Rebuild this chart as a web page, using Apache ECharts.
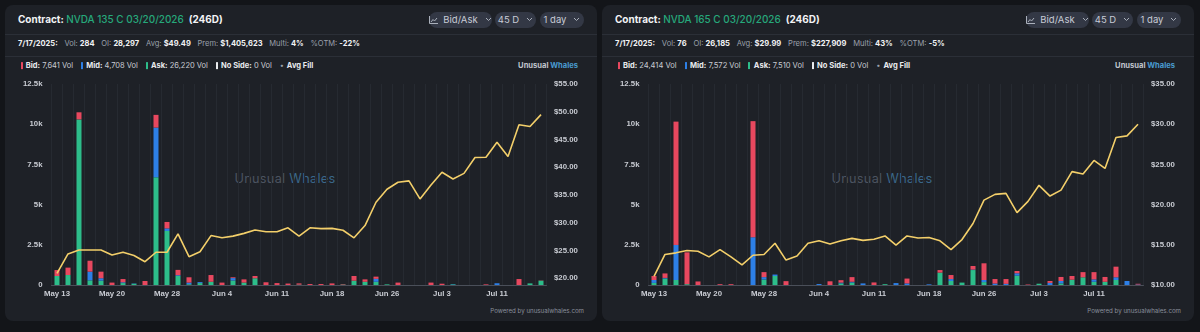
<!DOCTYPE html>
<html><head><meta charset="utf-8">
<script src="https://cdn.jsdelivr.net/npm/echarts@6/dist/echarts.min.js"></script>
<style>
html,body{margin:0;padding:0;background:#131519;width:1200px;height:332px;overflow:hidden;font-family:Inter,"Noto Sans",sans-serif;}
.panel{position:absolute;top:5px;width:592px;height:316px;background:#1e2127;border-radius:8px;overflow:hidden}
.sep{position:absolute;left:0;right:0;height:1px;background:#2b2f37}
.fitrow{position:absolute;white-space:nowrap;display:inline-block}
.title{left:13px;top:14px;transform:translateY(-50%);font-size:10.5px;font-weight:700;color:#f2f3f5;line-height:1.3}
.title .g{color:#26a87b;font-weight:500}
.title .d{margin-left:0.5em}
.stats{left:13px;top:39px;transform:translateY(-50%);font-size:8px;line-height:1.3;color:#9aa0ab}
.stats b{color:#f2f3f5;font-weight:700}
.stats span{margin-right:0.9em}
.stats span:last-child{margin-right:0}
.legend{left:15.5px;top:61px;transform:translateY(-50%);font-size:8.5px;line-height:1.3;color:#c9ccd3}
.legend b{color:#e9ebee;font-weight:700}
.legend .it{margin-right:1.05em;display:inline-block}
.legend .it:last-child{margin-right:0}
.legend i{display:inline-block;width:2px;height:0.95em;vertical-align:-0.12em;margin-right:0.45em}
.pill{position:absolute;top:7px;height:16px;border-radius:8px;background:#333845;color:#c8ccd6;font-size:9.5px;line-height:16px;text-align:center;white-space:nowrap}
.brand{top:61px;transform:translateY(-50%);font-size:8.5px;line-height:1.3;font-weight:700;color:#c2c6ce}
.brand span{color:#4a9bd1}
.wm{top:174px;transform:translateY(-50%);font-size:13px;line-height:1.3;color:#4b5360;letter-spacing:0.3px}
.wm span{color:#3a6688}
.pow{top:306px;transform:translateY(-50%);font-size:7.5px;line-height:1.3;color:#8a909c}
.chart{position:absolute;left:0;top:0;width:592px;height:316px}
</style></head>
<body>
<script>
// ---------- data ----------
const categories = ["May 13","May 14","May 15","May 16","May 19","May 20","May 21","May 22","May 23","May 27","May 28","May 29","May 30","Jun 2","Jun 3","Jun 4","Jun 5","Jun 6","Jun 9","Jun 10","Jun 11","Jun 12","Jun 13","Jun 16","Jun 17","Jun 18","Jun 20","Jun 23","Jun 24","Jun 25","Jun 26","Jun 27","Jun 30","Jul 1","Jul 2","Jul 3","Jul 7","Jul 8","Jul 9","Jul 10","Jul 11","Jul 14","Jul 15","Jul 16","Jul 17"];

const leftBid = [370,460,440,680,410,150,200,0,250,790,400,330,330,0,420,150,50,200,140,170,120,90,80,60,60,100,30,290,150,140,0,150,0,0,150,80,0,0,0,40,0,0,370,0,14];
const leftMid = [0,0,0,540,150,0,50,20,0,3090,160,50,100,60,0,0,150,0,0,0,0,0,0,0,0,0,0,0,0,180,0,0,0,0,0,0,20,0,0,0,110,0,0,0,0];
const leftAsk = [560,620,10300,290,270,0,120,80,0,6700,3360,560,50,120,200,0,280,150,420,0,0,0,20,0,0,0,30,270,200,200,40,0,0,0,0,0,40,0,0,0,0,0,0,100,270];
const leftNoSide = new Array(45).fill(0);
const leftAvgFill = [20.9,24.4,25.1,25.1,25.1,24.2,24.7,24.1,23.0,24.7,24.7,28.0,23.9,24.8,27.7,27.3,27.6,28.1,28.7,28.4,28.4,29.1,27.6,29.1,28.95,29.0,28.66,27.3,29.5,33.7,36.05,37.3,37.55,34.3,36.8,39.1,37.9,38.9,41.75,41.8,44.5,41.95,47.65,47.35,49.49];

const rightBid = [250,280,7670,1980,220,0,50,50,0,7220,310,0,240,0,0,0,230,150,290,0,160,0,0,300,0,0,160,250,0,220,1040,280,300,140,30,0,120,250,230,320,450,300,660,0,46];
const rightMid = [180,40,2180,0,0,0,0,0,0,2970,150,90,0,0,0,60,0,50,50,100,0,0,120,100,0,40,0,120,0,30,130,90,70,150,0,0,130,150,0,0,150,0,170,250,30];
const rightAsk = [130,400,310,50,0,0,0,0,0,0,340,560,0,0,0,0,0,100,150,0,0,50,0,0,0,0,770,250,150,930,180,0,0,580,0,80,0,100,330,480,200,200,310,0,0];
const rightNoSide = new Array(45).fill(0);
const rightAvgFill = [11.06,13.8,14.0,14.3,14.2,13.5,14.4,13.5,12.5,13.7,13.8,15.2,13.1,13.6,15.2,15.5,15.1,15.5,15.8,15.55,15.7,16.1,14.95,16.1,15.85,15.9,15.5,14.4,15.65,17.65,20.56,21.27,21.4,19.0,20.4,22.4,21.06,21.8,24.1,23.8,25.5,24.5,28.35,28.55,29.99];

const volTicks = [0,2500,5000,7500,10000,12500];
const volTickLabels = ["0","2.5k","5k","7.5k","10k","12.5k"];

const panels = [
  {x:5, strike:"135", dte:"246D", date:"7/17/2025:", vol:"284", oi:"28,297", avg:"$49.49", prem:"$1,405,623", multi:"4%", otm:"-22%",
   bidT:"7,641", midT:"4,708", askT:"26,220", bid:leftBid, mid:leftMid, ask:leftAsk, none:leftNoSide, fill:leftAvgFill, pMin:18.8, pMax:55, pSplit:7,
   statsW:342},
  {x:602, strike:"165", dte:"246D", date:"7/17/2025:", vol:"76", oi:"26,185", avg:"$29.99", prem:"$227,909", multi:"43%", otm:"-5%",
   bidT:"24,414", midT:"7,572", askT:"7,510", bid:rightBid, mid:rightMid, ask:rightAsk, none:rightNoSide, fill:rightAvgFill, pMin:10, pMax:35, pSplit:5,
   statsW:330}
];

const chev = '<svg width="7" height="5" viewBox="0 0 7 5" style="margin-left:7px;vertical-align:1px"><path d="M1 1 L3.5 3.5 L6 1" stroke="#aab0bb" stroke-width="1" fill="none"/></svg>';
const icon = '<svg width="9" height="8" viewBox="0 0 9 8" style="margin-right:5px;vertical-align:-1px"><path d="M0.5 0 V7.5 H9" stroke="#aab0bb" stroke-width="1" fill="none"/><path d="M2 6 L4 3.5 L5.5 5 L8 2" stroke="#aab0bb" stroke-width="1" fill="none"/></svg>';

function fit(el, target, alignRight) {
  const w = el.getBoundingClientRect().width;
  const fs = parseFloat(getComputedStyle(el).fontSize);
  el.style.fontSize = (fs * target / w) + 'px';
  if (alignRight !== undefined) { el.style.left = (alignRight - el.getBoundingClientRect().width) + 'px'; }
}

panels.forEach((p, k) => {
  const d = document.createElement('div');
  d.className = 'panel';
  d.style.left = p.x + 'px';
  d.innerHTML = `
    <div class="sep" style="top:29px"></div>
    <div class="sep" style="top:51px"></div>
    <div class="fitrow title">Contract: <span class="g">NVDA ${p.strike} C 03/20/2026</span><span class="d">(${p.dte})</span></div>
    <div class="pill" style="left:424px;width:63px">${icon}Bid/Ask${chev}</div>
    <div class="pill" style="left:490px;width:41px">45 D${chev}</div>
    <div class="pill" style="left:535px;width:44px">1 day${chev}</div>
    <div class="fitrow stats"><span><b>${p.date}</b></span><span>Vol: <b>${p.vol}</b></span><span>OI: <b>${p.oi}</b></span><span>Avg: <b>${p.avg}</b></span><span>Prem: <b>${p.prem}</b></span><span>Multi: <b>${p.multi}</b></span><span>%OTM: <b>${p.otm}</b></span></div>
    <div class="fitrow legend"><span class="it"><i style="background:#e8485f"></i><b>Bid:</b> ${p.bidT} Vol</span><span class="it"><i style="background:#2d7fe6"></i><b>Mid:</b> ${p.midT} Vol</span><span class="it"><i style="background:#2dbd8a"></i><b>Ask:</b> ${p.askT} Vol</span><span class="it"><i style="background:#e9ebee"></i><b>No Side:</b> 0 Vol</span><span class="it"><span style="color:#9aa0ab;margin-right:0.4em">•</span><b>Avg Fill</b></span></div>
    <div class="fitrow brand">Unusual <span>Whales</span></div>
    <div class="fitrow wm" style="left:230px">Unusual <span>Whales</span></div>
    <div class="fitrow pow">Powered by unusualwhales.com</div>
    <div class="chart" id="c${k}"></div>`;
  document.body.appendChild(d);
  fit(d.querySelector('.title'), 205);
  fit(d.querySelector('.stats'), p.statsW);
  fit(d.querySelector('.legend'), 292);
  fit(d.querySelector('.brand'), 60, 573);
  const wm = d.querySelector('.wm'); fit(wm, 101); wm.style.left = (280 - wm.getBoundingClientRect().width / 2) + 'px';
  fit(d.querySelector('.pow'), 94, 579);

  const chart = echarts.init(document.getElementById('c' + k), null, {renderer:'canvas', width:592, height:316});
  const lab = {color:'#c9ccd3', fontSize:7.8, fontWeight:'bold', fontFamily:'"Liberation Sans", Arial, sans-serif'};
  const barBase = {type:'bar', stack:'v', barWidth:5, yAxisIndex:0};
  chart.setOption({
    animation:false,
    backgroundColor:'transparent',
    grid:{left:46.5, right:50.5, top:79, bottom:36},
    xAxis:{type:'category', data:categories, boundaryGap:true,
      axisLine:{lineStyle:{color:'#4a4f59'}}, axisTick:{show:false},
      axisLabel:Object.assign({interval:4, margin:5}, lab),
      splitLine:{show:true, interval:0, lineStyle:{color:'#262a31', width:1}}},
    yAxis:[
      {type:'value', min:0, max:12500, interval:2500, position:'left',
       axisLine:{show:false}, axisTick:{show:false}, splitLine:{show:false},
       axisLabel:Object.assign({margin:9, formatter:v => volTickLabels[volTicks.indexOf(v)] ?? ''}, lab)},
      {type:'value', min:p.pMin, max:p.pMax, splitNumber:p.pSplit, position:'right', scale:true,
       axisLine:{show:false}, axisTick:{show:false}, splitLine:{show:false},
       axisLabel:Object.assign({margin:7.5, showMinLabel: p.pMin % 5 === 0, formatter:v => '$' + v.toFixed(2)}, lab)}
    ],
    series:[
      Object.assign({name:'Ask', data:p.ask, itemStyle:{color:'#2dbd8a'}}, barBase),
      Object.assign({name:'Mid', data:p.mid, itemStyle:{color:'#2d7fe6'}}, barBase),
      Object.assign({name:'Bid', data:p.bid, itemStyle:{color:'#e8485f'}}, barBase),
      Object.assign({name:'No Side', data:p.none, itemStyle:{color:'#e9ebee'}}, barBase),
      {name:'Avg Fill', type:'line', yAxisIndex:1, data:p.fill, symbol:'none',
       lineStyle:{color:'#f3cf6a', width:1.6}, itemStyle:{color:'#f3cf6a'}}
    ]
  });
});
</script>
</body></html>
